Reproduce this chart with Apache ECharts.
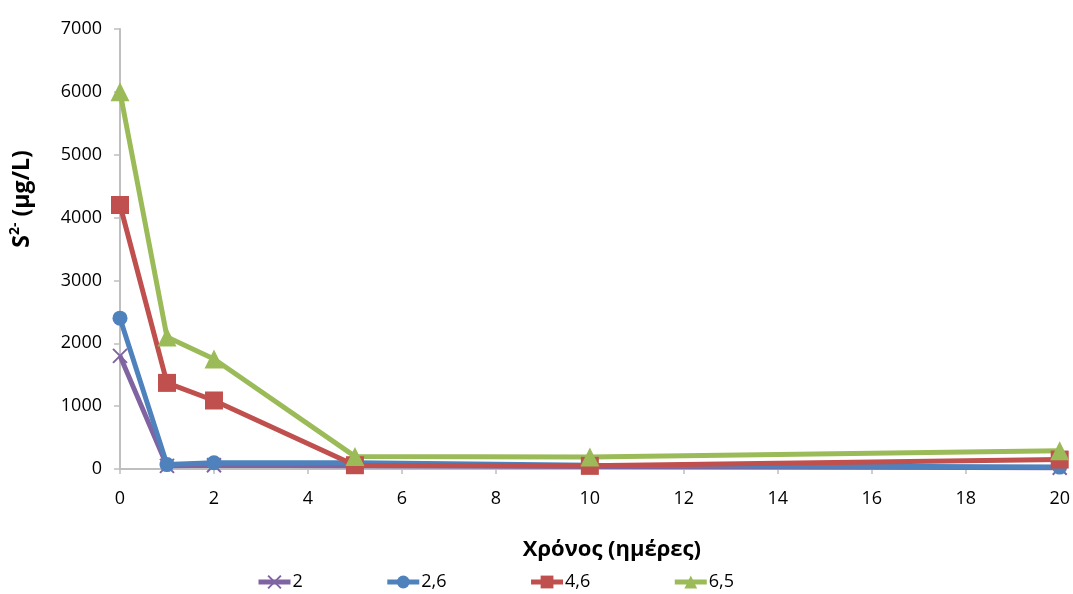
<!DOCTYPE html>
<html>
<head>
<meta charset="utf-8">
<script src="https://cdn.jsdelivr.net/npm/echarts@6/dist/echarts.min.js"></script>
<style>
  html, body { margin: 0; padding: 0; background: #fff; }
  #chart { width: 1073px; height: 594px; }
</style>
</head>
<body>
<div id="chart"></div>
<script>
// Sampling days
const days = [0, 1, 2, 5, 10, 20];

// Sulfide concentration (μg/L) per series
const s2 = [1800, 50, 60, 50, 40, 20];
const s26 = [2400, 70, 100, 100, 60, 30];
const s46 = [4200, 1370, 1090, 60, 50, 150];
const s65 = [6000, 2100, 1750, 200, 190, 290];

const seriesNames = ['2', '2,6', '4,6', '6,5'];
const yTicks = [0, 1000, 2000, 3000, 4000, 5000, 6000, 7000];
const xTicks = [0, 2, 4, 6, 8, 10, 12, 14, 16, 18, 20];

const FONT = 'Open Sans';
const axisGrey = '#BFBFBF';

function pairs(vals) {
  return days.map((d, i) => [d, vals[i]]);
}

const crossPath = 'path://M0,0L10,10M10,0L0,10';

function makeSeries(name, vals, color, symbol, size, extra) {
  return Object.assign({
    name: name,
    type: 'line',
    data: pairs(vals),
    symbol: symbol,
    symbolSize: size,
    showAllSymbol: true,
    lineStyle: { color: color, width: 5 },
    itemStyle: { color: color },
    emphasis: { disabled: true },
    animation: false
  }, extra || {});
}

const chart = echarts.init(document.getElementById('chart'), null, { renderer: 'canvas' });

chart.setOption({
  backgroundColor: '#ffffff',
  textStyle: { fontFamily: FONT },
  grid: { left: 120, right: 11, top: 29, bottom: 125, containLabel: false },
  xAxis: {
    type: 'value',
    min: xTicks[0],
    max: xTicks[xTicks.length - 1],
    interval: 2,
    name: 'Χρόνος (ημέρες)',
    nameLocation: 'middle',
    nameGap: 70,
    nameTextStyle: { fontFamily: FONT, fontSize: 22, fontWeight: 'bold', color: '#000', padding: [0, 0, 0, 44] },
    axisLine: { show: true, lineStyle: { color: axisGrey, width: 2 } },
    axisTick: { show: true, length: 5, lineStyle: { color: axisGrey, width: 1.5 } },
    axisLabel: { fontFamily: FONT, fontSize: 18, color: '#000', margin: 21, formatter: v => String(v) },
    splitLine: { show: false }
  },
  yAxis: {
    type: 'value',
    min: yTicks[0],
    max: yTicks[yTicks.length - 1],
    interval: 1000,
    name: '{b|S}{sup|2-}{b| (μg/L)}',
    nameLocation: 'middle',
    nameGap: 84,
    nameRotate: 90,
    nameTextStyle: {
      padding: [0, 0, 0, 100],
      rich: {
        b: { fontFamily: FONT, fontSize: 23, fontWeight: 'bold', color: '#000' },
        sup: { fontFamily: FONT, fontSize: 14, fontWeight: 'bold', color: '#000', verticalAlign: 'top', padding: [0, 0, 14, 0] }
      }
    },
    axisLine: { show: true, lineStyle: { color: axisGrey, width: 2 } },
    axisTick: { show: true, length: 6, lineStyle: { color: axisGrey, width: 1.5 } },
    axisLabel: { fontFamily: FONT, fontSize: 18, color: '#000', margin: 18, formatter: v => String(v) },
    splitLine: { show: false }
  },
  legend: {
    top: 568,
    left: 251,
    itemWidth: 32,
    itemHeight: 16,
    itemGap: 82,
    lineStyle: { width: 5 },
    textStyle: { fontFamily: FONT, fontSize: 18, color: '#000', padding: [0, 0, 0, -3] },
    data: seriesNames
  },
  series: [
    makeSeries(seriesNames[0], s2, '#8064A2', crossPath, 14, {
      itemStyle: { color: '#8064A2', borderColor: '#8064A2', borderWidth: 2 }
    }),
    makeSeries(seriesNames[1], s26, '#4F81BD', 'circle', 15),
    makeSeries(seriesNames[2], s46, '#C0504D', 'rect', 18),
    makeSeries(seriesNames[3], s65, '#9BBB59', 'triangle', 19)
  ]
});
</script>
</body>
</html>
